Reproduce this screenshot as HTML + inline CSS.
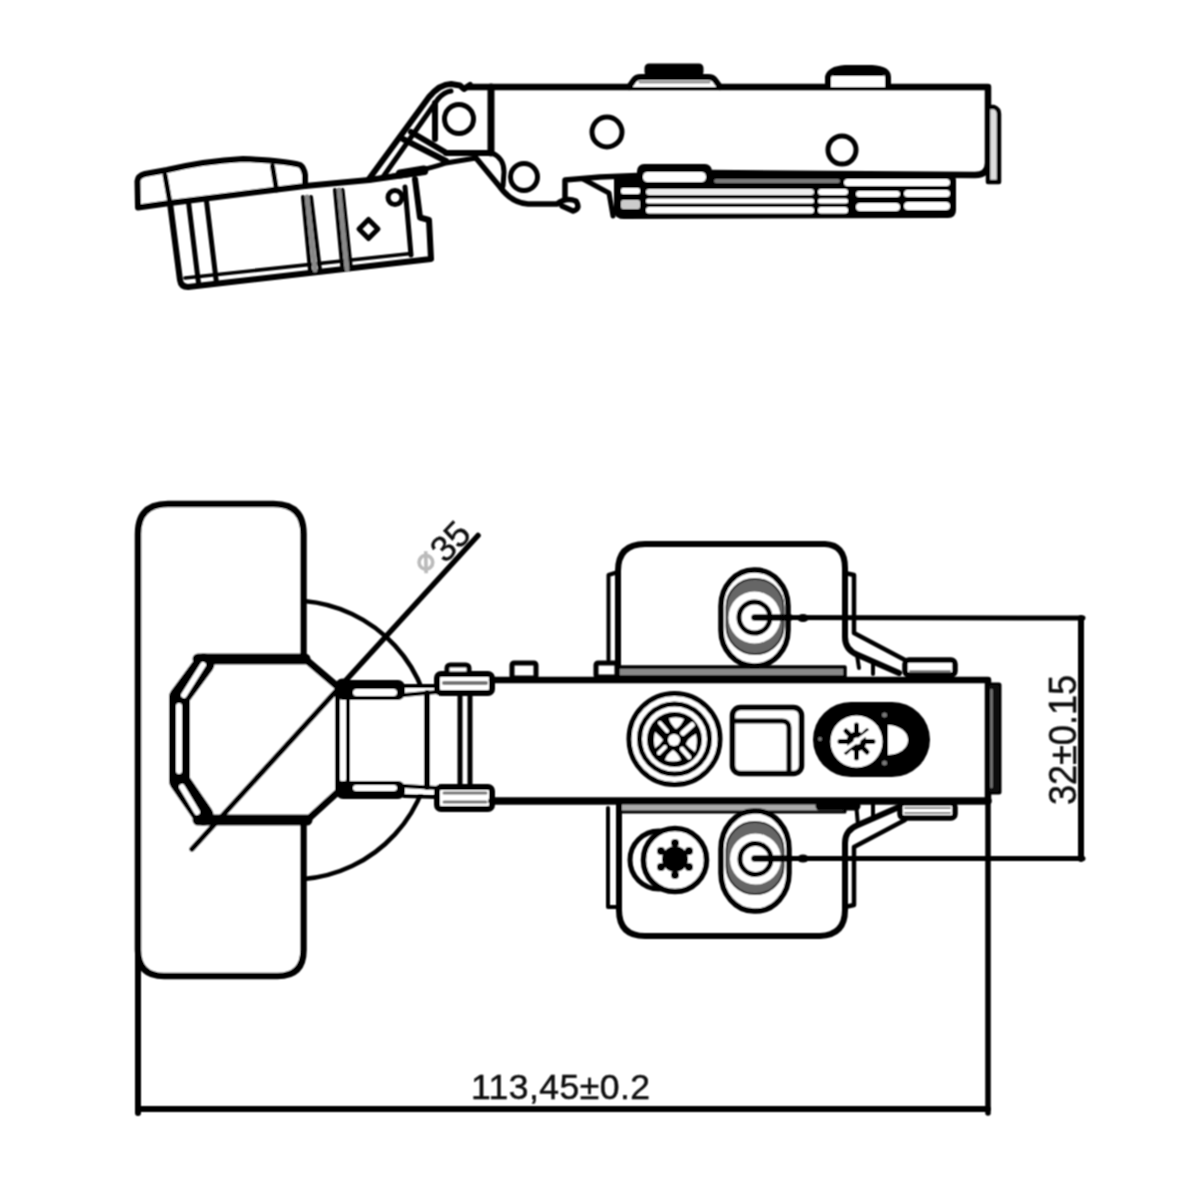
<!DOCTYPE html>
<html><head><meta charset="utf-8"><style>
html,body{margin:0;padding:0;background:#fff;width:1200px;height:1200px;overflow:hidden}
svg{display:block}
text{font-family:"Liberation Sans",sans-serif}
</style></head><body>
<svg width="1200" height="1200" viewBox="0 0 1200 1200">
<defs><filter id="soft" x="-2%" y="-2%" width="104%" height="104%"><feConvolveMatrix order="3" kernelMatrix="1 2 1 2 4 2 1 2 1" divisor="16" edgeMode="none"/></filter></defs>
<rect width="1200" height="1200" fill="#fff"/>
<g filter="url(#soft)">
<g fill="none" stroke="#000" stroke-linejoin="round" stroke-linecap="round">

<!-- ============ TOP (SIDE) VIEW ============ -->
<!-- cup flange -->
<path d="M138 207.5 L137.5 181 Q138 176 145 174 L167 170 Q205 161 243 159 Q287 161 300 165 Q304 168 305 175 L305 186 L273 190 L170 203 Z" stroke-width="6" fill="#fff"/>
<path d="M165 175 L170 203 M272.5 166 L276.5 190" stroke-width="5"/>
<!-- cup body -->
<path d="M170 203 L180 280 Q181 287 188 287 L431 259 L429 220 L420 217.5 L415 179" stroke-width="6"/>
<path d="M305 186 L369 180 L425 172" stroke-width="6"/>
<path d="M185 278 L411 253.5" stroke-width="3.5"/>
<path d="M405 187 L411 255" stroke-width="5"/>
<path d="M188.5 202 L198.5 283 M206.5 201 L216.5 283" stroke-width="5"/>
<path d="M303 197 L310 270 M311 197 L320 270 M335 190 L342.5 269 M342.5 190 L351 269" stroke-width="4"/>
<path d="M307 197 L315 270 M339 190 L347 269" stroke-width="5" stroke="#888"/>
<circle cx="395" cy="197.5" r="7" stroke-width="5"/>
<path d="M368.5 219.5 L378 229 L368.5 238.5 L359 229 Z" stroke-width="5"/>
<!-- link arms -->
<path d="M369 179 L429 97 Q440 84 451 84 L460 85.5 L464 89 L470 85" stroke-width="6"/>
<path d="M383 177 L438 99 Q444 92 451 91" stroke-width="5"/>
<path d="M403 139 L446 161 M411 132 L445 152" stroke-width="6"/>
<path d="M435 103 L435 139" stroke-width="6"/>
<path d="M369 180 Q420 172 446 163 L476 158" stroke-width="5"/>
<path d="M400 174 L424 170" stroke-width="9"/>
<!-- pivot block -->
<path d="M446 153 L491 153" stroke-width="6"/>
<path d="M491 87 L491 153" stroke-width="7"/>
<circle cx="459" cy="119" r="14.5" stroke-width="5"/>
<!-- arm body -->
<path d="M468 87 L988 87 L988 163 Q988 175 975 175 L707 173" stroke-width="6.5"/>
<path d="M988 107 L994 107 Q999 109 999 114 L999 182 L988 182 Z" fill="#ddd" stroke-width="4.5"/>
<!-- knobs -->
<path d="M629 87 L634 80 Q636 77 641 77 L708 77 Q713 77 715 80 L720 87" stroke-width="6" fill="#fff"/>
<path d="M640 82 L709 82" stroke-width="3" stroke="#999"/>
<rect x="646" y="65" width="56" height="10" rx="3" fill="#000" stroke-width="3"/>
<path d="M828 87 L828 77 Q830 69 845 68 L872 68 Q888 69 888 77 L888 87" stroke-width="6" fill="#fff"/>
<path d="M834 73 L882 73" stroke-width="6"/>
<circle cx="607" cy="132" r="15" stroke-width="5"/>
<circle cx="842" cy="150" r="14" stroke-width="5"/>
<circle cx="524" cy="177" r="13.5" stroke-width="5"/>
<!-- lower hook curve -->
<path d="M476 158 Q490 175 500 187 Q512 203 528 204 L557 204 Q566 197 576 201 Q581 209 573 211 L562 206" stroke-width="5.5"/>
<path d="M565 199 L565 180 L600 177 L650 175" stroke-width="5.5"/>
<path d="M492 153 Q504 158 504 172 L503 186" stroke-width="5"/>
<!-- slide mechanism -->
<path d="M638 176 L616 178 L616 212 Q617 217 624 217 L948 216 Q954 216 954 210 L954 180 Q954 176 948 176 Z" fill="#000" stroke-width="4"/>
<path d="M583 179 L609 193 L613 216" stroke-width="5"/>
<rect x="638" y="165" width="73" height="21" rx="6" fill="#000" stroke-width="2"/>
<g stroke="none">
<rect x="643" y="172" width="63" height="10" rx="4.5" fill="#fff"/>
<rect x="714" y="179" width="126" height="4" rx="2" fill="#777"/>
<rect x="844" y="179" width="106" height="7" rx="3.5" fill="#fff"/>
<rect x="646" y="189" width="168" height="6" rx="3" fill="#eee"/>
<rect x="818" y="189" width="30" height="6" rx="3" fill="#fff"/>
<rect x="856" y="191" width="44" height="6" rx="3" fill="#fff"/>
<rect x="904" y="190" width="46" height="7" rx="3.5" fill="#fff"/>
<rect x="646" y="198.5" width="168" height="5" rx="2.5" fill="#fff"/>
<rect x="818" y="198.5" width="30" height="5" rx="2.5" fill="#fff"/>
<rect x="646" y="207" width="168" height="6.5" rx="3" fill="#fff"/>
<rect x="818" y="207" width="30" height="6.5" rx="3" fill="#fff"/>
<rect x="856" y="203" width="44" height="8" rx="4" fill="#fff"/>
<rect x="904" y="202" width="46" height="8" rx="4" fill="#fff"/>
<rect x="621" y="188" width="19" height="6" rx="2" fill="#fff"/>
<rect x="621" y="200" width="19" height="9" rx="2" fill="#ccc"/>
</g>

<!-- ============ BOTTOM (PLAN) VIEW ============ -->
<!-- pad -->
<path d="M138 534 Q138 504 168 504 L273.5 504 Q303.5 504 303.5 534 L303.5 950 Q303.5 976 277.5 976 L164 976 Q138 976 138 950 Z" stroke-width="6.5" fill="#fff"/>
<path d="M138 940 L138 1113" stroke-width="6"/>
<!-- dimension 113.45 -->
<path d="M138 1109 L988 1109" stroke-width="6"/>
<path d="M988 800 L988 1113" stroke-width="5.5"/>
<!-- arc 35 -->
<path d="M304 601 A139.5 139.5 0 0 1 304 879" stroke-width="4.5"/>

<!-- cup (white interior hides pad edge) -->
<path d="M198 659 L305 659 L336 686 L336 794 L307 820 L198 820 L179 782 L179 694 Z" fill="#fff" stroke="none"/>
<path d="M198 659 L305 659" stroke-width="11"/>
<path d="M304 658 L338 687" stroke-width="7"/>
<path d="M198 820 L307 820" stroke-width="11"/>
<path d="M306 821 L340 790" stroke-width="7"/>
<path d="M204 664 L179.5 697 L179.5 781 L203 815" stroke-width="21"/>
<g stroke="#fff" stroke-width="6" stroke-linecap="round">
<path d="M203 665 L184 695"/>
<path d="M179 706 L179 771"/>
<path d="M182 787 L197 812"/>
</g>
<!-- white region inside ring (hides arc) -->
<rect x="338" y="686" width="100" height="108" fill="#fff" stroke="none"/>
<!-- diagonal -->
<path d="M192 849 L478 535.5" stroke-width="5.5"/>

<!-- inner ring -->
<path d="M342.5 686 L342.5 790" stroke-width="15"/>
<path d="M343 697 L343 779" stroke-width="6" stroke="#fff"/>
<rect x="337" y="681" width="67" height="18" rx="6" fill="#000" stroke-width="2"/>
<rect x="353" y="689" width="44" height="7" rx="3.5" fill="#fff" stroke="none"/>
<rect x="337" y="782" width="67" height="16" rx="6" fill="#000" stroke-width="2"/>
<rect x="353" y="785" width="44" height="6" rx="3" fill="#fff" stroke="none"/>
<path d="M404 686 L437 686 M404 695 L437 692" stroke-width="4"/>
<path d="M404 786 L437 788 M404 796 L437 797" stroke-width="4"/>
<!-- link -->
<rect x="437" y="674" width="55" height="19" rx="4" stroke-width="6" fill="#fff"/>
<path d="M444 683 L486 683" stroke-width="4" stroke="#777"/>
<rect x="447" y="665" width="22" height="9" rx="3" stroke-width="5" fill="#fff"/>
<rect x="437" y="787" width="55" height="22" rx="4" stroke-width="6" fill="#fff"/>
<path d="M444 793 L486 793 M444 802 L486 802" stroke-width="3" stroke="#777"/>
<path d="M427 693 L427 787" stroke-width="6"/>
<path d="M460 693 L460 787 M470 693 L470 787" stroke-width="5"/>

<!-- main arm -->
<path d="M492 680 L988 680 L988 801" stroke-width="6.5"/>
<path d="M492 801 L988 801" stroke-width="7.5"/>
<rect x="988" y="684" width="12" height="109" rx="1" fill="#111" stroke-width="3"/>
<path d="M991.5 690 L991.5 787" stroke="#777" stroke-width="2.5"/>
<rect x="512" y="663" width="24" height="15" rx="2" stroke-width="5"/>
<rect x="596" y="663" width="21" height="14" rx="2" stroke-width="5"/>

<!-- top plate -->
<rect x="618" y="667" width="227" height="10" fill="#888" stroke-width="3.5"/>
<path d="M618 665 L618 571 Q618 544 645 544 L825 544 Q845 545 845 568 L845 637 Q845 650 858 655 L899 673" stroke-width="6"/>
<path d="M608.5 660 L608.5 575 L618 572" stroke-width="4"/>
<path d="M845 573 L854 575 L854 633 L905 660" stroke-width="4.5"/>
<path d="M857 655 L859 668 M873 662 L873 674" stroke-width="4"/>
<rect x="905" y="660" width="50" height="15" rx="4" stroke-width="5.5" fill="#fff"/>
<path d="M910 671 L950 671" stroke-width="2" stroke="#888"/>

<!-- bottom plate -->
<rect x="619" y="803" width="226" height="9" fill="#aaa" stroke-width="3"/>
<path d="M820 806 L856 806" stroke-width="9"/>
<path d="M619 803 L619 910 Q619 936 645 936 L820 936 Q845 935 845 910 L845 843 Q845 830 858 825 L899 807" stroke-width="6"/>
<path d="M608 808 L608 907 L616 907" stroke-width="4"/>
<path d="M845 907 L854 905 L854 847 L905 820" stroke-width="4.5"/>
<path d="M856 803 L858 825 M873 803 L873 816" stroke-width="4"/>
<rect x="900" y="803" width="55" height="15" rx="4" stroke-width="5.5" fill="#fff"/>
<path d="M905 808 L950 808 M905 813 L950 813" stroke-width="2" stroke="#888"/>

<!-- slots -->
<rect x="721" y="570" width="67" height="96" rx="33" ry="36" fill="#fff" stroke-width="5.5"/>
<rect x="726.5" y="579" width="57" height="75" rx="28" ry="28" fill="#666" stroke="#333" stroke-width="2"/>
<circle cx="754.5" cy="617.5" r="26" fill="#fff" stroke="none"/>
<circle cx="754.5" cy="617.5" r="15.5" fill="#fff" stroke-width="5"/>

<rect x="721" y="811" width="68" height="100" rx="33" ry="38" fill="#fff" stroke-width="5.5"/>
<rect x="726.5" y="822" width="57" height="72" rx="28" ry="28" fill="#666" stroke="#333" stroke-width="2"/>
<circle cx="755.5" cy="859" r="25.5" fill="#fff" stroke="none"/>
<circle cx="755.5" cy="859" r="15.5" fill="#fff" stroke-width="5"/>

<!-- dimension 32 -->
<path d="M754.5 617.5 L1083 618 M754.5 858.5 L1083 858.5" stroke-width="5"/>
<path d="M754.5 617.5 L790 617.5 M754.5 858.5 L790 858.5" stroke-width="6.5"/>
<path d="M1081 618 L1081 859" stroke-width="6"/>
<ellipse cx="803" cy="618" rx="6" ry="4" fill="#000" stroke="none"/>
<ellipse cx="803" cy="858.5" rx="6" ry="4" fill="#000" stroke="none"/>

<!-- cam -->
<circle cx="674.5" cy="739" r="45.5" fill="#fff" stroke-width="5"/>
<circle cx="674.5" cy="739" r="35" stroke-width="5"/>
<circle cx="674.5" cy="739.5" r="27.5" fill="#000" stroke="none"/>
<g fill="#fff" stroke="none">
<path d="M669 718.5 Q677 716 684 719 Q681 726 676 729 Q671 725 669 718.5 Z"/>
<path d="M665 760 Q673 763 681 760 Q678 753 673 750 Q667 754 665 760 Z"/>
<path d="M655 732 Q661 737 663 740 Q660 745 655 748 Q653 740 655 732 Z"/>
<path d="M696 734 Q698 743 695 752 Q689 748 686 744 Q688 738 696 734 Z"/>
<circle cx="674" cy="740" r="6"/>
</g>
<g stroke="#fff" stroke-linecap="round">
<path d="M660 723 L667 731" stroke-width="4"/>
<path d="M683 733 L692 725" stroke-width="5.5"/>
<path d="M659 753 L665 747" stroke-width="4"/>
<path d="M682 749 L689 757" stroke-width="4.5"/>
</g>

<!-- square -->
<rect x="732.5" y="707.5" width="69" height="66" rx="8" fill="#fff" stroke-width="5.5"/>
<path d="M734 721 L782 721 Q789 721 789 728 L789 772" stroke-width="5"/>

<!-- dark oval -->
<rect x="813" y="702" width="117" height="75" rx="38" fill="#000" stroke="none"/>
<circle cx="856.5" cy="741.5" r="26" fill="#fff" stroke="none"/>
<path d="M888 725 A20 15 0 0 1 888 755 Z" fill="#fff" stroke="none"/>
<g stroke-width="5">
<path d="M846 731 L867 752 M867 731 L846 752 M856.5 725 L856.5 758 M840 741.5 L873 741.5"/>
</g>
<circle cx="856.5" cy="741.5" r="10" fill="#000" stroke="none"/>
<circle cx="857" cy="741" r="3.5" fill="#fff" stroke="none"/>
<path d="M838 755 L876 727" stroke="#fff" stroke-width="3.5"/>
<g fill="#777" stroke="none"><circle cx="884.5" cy="715" r="2.5"/><circle cx="884.5" cy="763" r="2.5"/><circle cx="820" cy="739" r="2"/></g>

<!-- screw -->
<circle cx="659" cy="860" r="29" stroke-width="5"/>
<circle cx="675" cy="860" r="31.5" fill="#fff" stroke-width="5.5"/>
<g fill="#000" stroke="none">
<circle cx="675" cy="859" r="13"/>
<circle cx="675" cy="843" r="4"/><circle cx="689" cy="851" r="4"/><circle cx="689" cy="867" r="4"/>
<circle cx="675" cy="875" r="4"/><circle cx="661" cy="867" r="4"/><circle cx="661" cy="851" r="4"/>
</g>

</g>
<!-- texts -->
<text x="471" y="1098.5" font-size="35.5" textLength="179" lengthAdjust="spacing" fill="#111" stroke="#111" stroke-width="0.5">113,45±0.2</text>
<text transform="translate(1075.5 805) rotate(-90)" font-size="38" textLength="130" lengthAdjust="spacingAndGlyphs" fill="#111" stroke="#111" stroke-width="0.5">32±0.15</text>
<g transform="translate(432 578) rotate(-46)">
<text x="-2" y="-8" font-size="30" fill="#bbb" stroke="#bbb" stroke-width="1.5">⌀</text>
<text x="19" y="0" font-size="36" fill="#111" stroke="#111" stroke-width="0.4">35</text>
</g>
</g>
</svg>
</body></html>
